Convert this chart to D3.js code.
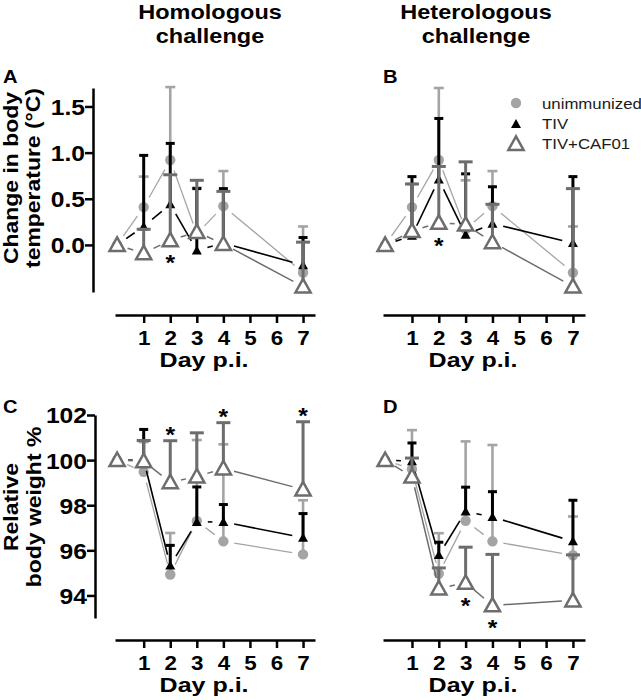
<!DOCTYPE html>
<html>
<head>
<meta charset="utf-8">
<script src="https://cdn.jsdelivr.net/npm/d3@7"></script>
<style>
  html, body { margin: 0; padding: 0; background: #fff; }
  svg { display: block; }
</style>
</head>
<body>
<svg id="chart" width="641" height="700"></svg>
<script>
// ---------- DATA ----------
const days = [0, 1, 2, 3, 4, 7];
const dayTicks = [1, 2, 3, 4, 5, 6, 7];
const tempTicks = [0, 0.5, 1.0, 1.5];
const weightTicks = [94, 96, 98, 100, 102];
const seriesNames = ["unimmunized", "TIV", "TIV+CAF01"];
const columnTitles = [["Homologous", "challenge"], ["Heterologous", "challenge"]];
const panelLetters = ["A", "B", "C", "D"];
const tempLabel = ["Change in body", "temperature (°C)"];
const weightLabel = ["Relative", "body weight %"];
const xLabel = "Day p.i.";

// A: homologous, body temperature change (mean, upper error)
const homTempUnimm    = [0, 0.41, 0.92, 0.12, 0.42, -0.30];
const homTempUnimmErr = [0, 0.33, 0.79, 0.50, 0.38, 0.50];
const homTempTIV      = [0, 0.20, 0.44, -0.06, 0.02, -0.22];
const homTempTIVErr   = [0, 0.77, 0.66, 0.67, 0.59, 0.30];
const homTempCAF      = [0, -0.09, 0.05, 0.14, 0.01, -0.45];
const homTempCAFErr   = [0, 0.26, 0.71, 0.56, 0.57, 0.48];
const homTempStars    = [2];            // below

// B: heterologous, body temperature change
const hetTempUnimm    = [0, 0.41, 0.92, 0.17, 0.42, -0.30];
const hetTempUnimmErr = [0, 0.25, 0.78, 0.53, 0.38, 0.50];
const hetTempTIV      = [0, 0.10, 0.71, 0.11, 0.23, 0.02];
const hetTempTIVErr   = [0, 0.64, 0.66, 0.66, 0.40, 0.72];
const hetTempCAF      = [0, 0.15, 0.24, 0.22, 0.03, -0.45];
const hetTempCAFErr   = [0, 0.51, 0.61, 0.68, 0.41, 1.06];
const hetTempStars    = [2];            // below

// C: homologous, relative body weight
const homWtUnimm    = [100, 99.48, 94.93, 97.30, 96.40, 95.82];
const homWtUnimmErr = [0, 1.32, 1.84, 3.59, 4.30, 2.40];
const homWtTIV      = [100, 100.0, 95.33, 97.26, 97.26, 96.56];
const homWtTIVErr   = [0, 1.36, 0.89, 1.55, 0.77, 1.07];
const homWtCAF      = [100, 99.95, 99.02, 99.27, 99.63, 98.70];
const homWtCAFErr   = [0, 0.92, 1.84, 1.94, 2.03, 3.00];
const homWtStars    = [2, 4, 7];        // above

// D: heterologous, relative body weight
const hetWtUnimm    = [100, 99.60, 94.97, 97.31, 96.40, 95.78];
const hetWtUnimmErr = [0, 1.73, 1.79, 3.52, 4.27, 1.72];
const hetWtTIV      = [100, 99.95, 95.79, 97.72, 97.48, 96.40];
const hetWtTIVErr   = [0, 0.81, 0.57, 1.08, 1.12, 1.82];
const hetWtCAF      = [100, 99.27, 94.31, 94.56, 93.56, 93.78];
const hetWtCAFErr   = [0, 0.82, 0.91, 1.58, 2.26, 2.02];
const hetWtStars    = [3, 4];           // below

// ---------- STYLE ----------
const FONT = "'Liberation Sans', Arial, Helvetica, sans-serif";
const SX = 1.12;
const styles = [
  { color: "#a4a4a4", marker: "circle", lw: 1.3, ew: 2.6, cap: 10 },
  { color: "#000000", marker: "tri",    lw: 1.6, ew: 3.0, cap: 9 },
  { color: "#6d6d6d", marker: "open",   lw: 1.5, ew: 3.0, cap: 14 }
];

const svg = d3.select("#chart");

function txt(parent, s, x, y, o = {}) {
  return parent.append("text")
    .attr("transform", `translate(${x},${y})${o.rot ? ` rotate(${o.rot})` : ""} scale(${o.sx ?? SX},1)`)
    .attr("text-anchor", o.anchor || "start")
    .attr("font-family", FONT)
    .attr("font-size", o.size || 20)
    .attr("font-weight", o.weight || "bold")
    .attr("fill", o.fill || "#000")
    .text(s);
}

function markerPath(type) {
  if (type === "tri") return "M0,-5 L5,4 L-5,4 Z";
  if (type === "open") return "M0,-7.6 L7.6,6 L-7.6,6 Z";
  return null;
}

function drawMarker(g, type, color, cx, cy) {
  if (type === "circle") {
    g.append("circle").attr("cx", cx).attr("cy", cy).attr("r", 5.2).attr("fill", color);
  } else if (type === "tri") {
    g.append("path").attr("d", markerPath("tri")).attr("transform", `translate(${cx},${cy})`)
      .attr("fill", color);
  } else {
    g.append("path").attr("d", markerPath("open")).attr("transform", `translate(${cx},${cy})`)
      .attr("fill", "#fff").attr("stroke", color).attr("stroke-width", 2.5)
      .attr("stroke-linejoin", "miter");
  }
}

// scales
const xDomain = [-0.08, 7.45];
const xLeft = d3.scaleLinear().domain(xDomain).range([115, 315]);
const xRight = d3.scaleLinear().domain(xDomain).range([383, 585]);
const yTemp = d3.scaleLinear().domain([-0.51, 1.7]).range([292, 88]);
const yWt = d3.scaleLinear().domain([93, 102]).range([618, 415]);

function drawPanel(cfg) {
  const { x, y, series, axisY, yAxisX, yTicksVals, yFmt, stars, starPos } = cfg;
  const g = svg.append("g");

  // x axis
  const xa = g.append("g").attr("transform", `translate(0,${axisY})`)
    .call(d3.axisBottom(x).tickValues(dayTicks).tickSize(8).tickSizeOuter(0).tickFormat(d3.format("d")));
  xa.select(".domain").attr("stroke", "#000").attr("stroke-width", 2.5);
  xa.selectAll(".tick line").attr("stroke", "#000").attr("stroke-width", 2.5);
  xa.selectAll(".tick text").attr("y", null).attr("dy", null)
    .attr("transform", `translate(0,30) scale(${SX},1)`)
    .attr("font-family", FONT).attr("font-size", 20).attr("font-weight", "bold").attr("fill", "#000");
  const mid = (x(3) + x(4)) / 2 - 6;
  txt(g, xLabel, mid, axisY + 52, { anchor: "middle", size: 20.5, sx: 1.22 });

  // y axis
  if (yAxisX != null) {
    const ya = g.append("g").attr("transform", `translate(${yAxisX},0)`)
      .call(d3.axisLeft(y).tickValues(yTicksVals).tickSize(8).tickSizeOuter(0).tickFormat(yFmt));
    ya.select(".domain").attr("stroke", "#000").attr("stroke-width", 2.5);
    ya.selectAll(".tick line").attr("stroke", "#000").attr("stroke-width", 2.5);
    ya.selectAll(".tick text").attr("x", null).attr("dy", "0.36em")
      .attr("transform", `translate(-8,0) scale(${SX},1)`)
      .attr("font-family", FONT).attr("font-size", 22).attr("font-weight", "bold").attr("fill", "#000");
  }

  // series
  const gap = 11;
  series.forEach((s, si) => {
    const st = styles[si];
    const pts = days.map((d, i) => ({ px: x(d), py: y(s.mean[i]), top: y(s.mean[i] + s.err[i]), e: s.err[i] }));
    // connecting lines with gaps at the markers
    for (let i = 0; i < pts.length - 1; i++) {
      const a = pts[i], b = pts[i + 1];
      const dx = b.px - a.px, dy = b.py - a.py, L = Math.hypot(dx, dy);
      if (L <= 2 * gap + 1) continue;
      const ux = dx / L, uy = dy / L;
      g.append("line")
        .attr("x1", a.px + ux * gap).attr("y1", a.py + uy * gap)
        .attr("x2", b.px - ux * gap).attr("y2", b.py - uy * gap)
        .attr("stroke", st.color).attr("stroke-width", st.lw);
    }
    // error bars (upper)
    pts.forEach(p => {
      if (!p.e) return;
      g.append("line").attr("x1", p.px).attr("x2", p.px).attr("y1", p.py).attr("y2", p.top)
        .attr("stroke", st.color).attr("stroke-width", st.ew);
      g.append("line").attr("x1", p.px - st.cap / 2).attr("x2", p.px + st.cap / 2)
        .attr("y1", p.top).attr("y2", p.top)
        .attr("stroke", st.color).attr("stroke-width", st.ew);
    });
    // markers
    pts.forEach(p => drawMarker(g, st.marker, st.color, p.px, p.py));
  });

  // significance stars
  stars.forEach(d => {
    const i = days.indexOf(d);
    let cy;
    if (starPos === "above") {
      const tops = series.map(s => y(s.mean[i] + s.err[i]));
      cy = d3.min(tops) - 11;
    } else {
      cy = y(series[2].mean[i]) + 18;
    }
    txt(g, "*", x(d), cy + 12, { anchor: "middle", size: 22 });
  });
  return g;
}

// column titles
columnTitles.forEach((t, ci) => {
  const cx = ci === 0 ? 210 : 476;
  txt(svg, t[0], cx, 18.5, { anchor: "middle", size: 21 });
  txt(svg, t[1], cx, 43, { anchor: "middle", size: 21 });
});

// panel letters
txt(svg, panelLetters[0], 3, 83, { size: 18 });
txt(svg, panelLetters[1], 383, 83, { size: 18 });
txt(svg, panelLetters[2], 3, 413, { size: 18 });
txt(svg, panelLetters[3], 383, 413, { size: 18 });

// y-axis titles
txt(svg, tempLabel[0], 18, 178, { anchor: "middle", size: 20.5, rot: -90 });
txt(svg, tempLabel[1], 40, 178, { anchor: "middle", size: 20.5, rot: -90 });
txt(svg, weightLabel[0], 18, 507, { anchor: "middle", size: 20.5, rot: -90 });
txt(svg, weightLabel[1], 41, 507, { anchor: "middle", size: 20.5, rot: -90 });

const fmt1 = d3.format(".1f"), fmt0 = d3.format("d");

drawPanel({ x: xLeft, y: yTemp, axisY: 315, yAxisX: 93, yTicksVals: tempTicks, yFmt: fmt1,
  series: [ { mean: homTempUnimm, err: homTempUnimmErr }, { mean: homTempTIV, err: homTempTIVErr }, { mean: homTempCAF, err: homTempCAFErr } ],
  stars: homTempStars, starPos: "below" });

drawPanel({ x: xRight, y: yTemp, axisY: 315, yAxisX: null,
  series: [ { mean: hetTempUnimm, err: hetTempUnimmErr }, { mean: hetTempTIV, err: hetTempTIVErr }, { mean: hetTempCAF, err: hetTempCAFErr } ],
  stars: hetTempStars, starPos: "below" });

drawPanel({ x: xLeft, y: yWt, axisY: 640, yAxisX: 95, yTicksVals: weightTicks, yFmt: fmt0,
  series: [ { mean: homWtUnimm, err: homWtUnimmErr }, { mean: homWtTIV, err: homWtTIVErr }, { mean: homWtCAF, err: homWtCAFErr } ],
  stars: homWtStars, starPos: "above" });

drawPanel({ x: xRight, y: yWt, axisY: 640, yAxisX: null,
  series: [ { mean: hetWtUnimm, err: hetWtUnimmErr }, { mean: hetWtTIV, err: hetWtTIVErr }, { mean: hetWtCAF, err: hetWtCAFErr } ],
  stars: hetWtStars, starPos: "below" });

// legend (panel B)
const leg = svg.append("g");
const legY = [103, 123, 143];
seriesNames.forEach((n, i) => {
  drawMarker(leg, styles[i].marker, styles[i].color, 516, legY[i] + (i === 0 ? 0 : 1));
  txt(leg, n, 542, legY[i] + 5.5, { size: 15, weight: "normal", fill: "#1a1a1a" });
});
</script>
</body>
</html>
